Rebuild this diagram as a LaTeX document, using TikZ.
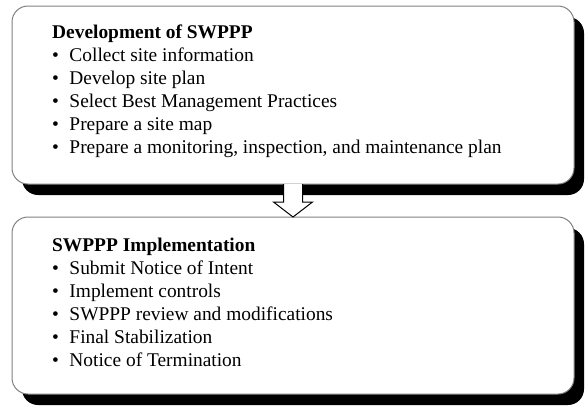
\documentclass[tikz,border=0pt]{standalone}
\usepackage{fontspec}
\setmainfont{Liberation Serif}
\usetikzlibrary{shadows,calc}
\newcommand\bl{\makebox[17.3bp][l]{\textbullet}}
\begin{document}
\begin{tikzpicture}[x=1bp,y=-1bp,
  box/.style={draw=black!50, line width=1bp, rounded corners=16bp, fill=white,
    drop shadow={shadow xshift=10bp, shadow yshift=-11bp, fill=black, opacity=1},
    anchor=north west, minimum width=562bp, inner sep=0pt, outer sep=0pt},
  txt/.style={anchor=base west, align=left, inner sep=0pt, font=\fontsize{19.4bp}{23bp}\selectfont},
  blockarrow/.style={draw=black, line width=1bp, fill=white, line join=miter}
]
\useasboundingbox (0,0) rectangle (586,405);
\node[box, minimum height=178bp] (b1) at (12,6) {};
\node[box, minimum height=177bp] (b2) at (12,217) {};
\node[txt] (t1) at (52,153) {\textbf{Development of SWPPP}\\
  \bl Collect site information\\
  \bl Develop site plan\\
  \bl Select Best Management Practices\\
  \bl Prepare a site map\\
  \bl Prepare a monitoring, inspection, and maintenance plan};
\node[txt] (t2) at (52,366) {\textbf{SWPPP Implementation}\\
  \bl Submit Notice of Intent\\
  \bl Implement controls\\
  \bl SWPPP review and modifications\\
  \bl Final Stabilization\\
  \bl Notice of Termination};
% block arrow from b1 to b2
\fill[white] ($(b1.south)+(-9.5,0)$) -- ($(b1.south)+(-9.5,18)$) -- ($(b1.south)+(-19.5,18)$)
  -- (b2.north) -- ($(b1.south)+(19.5,18)$) -- ($(b1.south)+(9.5,18)$) -- ($(b1.south)+(9.5,0)$) -- cycle;
\draw[blockarrow, fill=none] ($(b1.south)+(-9.5,0)$) -- ($(b1.south)+(-9.5,18)$) -- ($(b1.south)+(-19.5,18)$)
  -- (b2.north) -- ($(b1.south)+(19.5,18)$) -- ($(b1.south)+(9.5,18)$) -- ($(b1.south)+(9.5,0)$);
\end{tikzpicture}
\end{document}
